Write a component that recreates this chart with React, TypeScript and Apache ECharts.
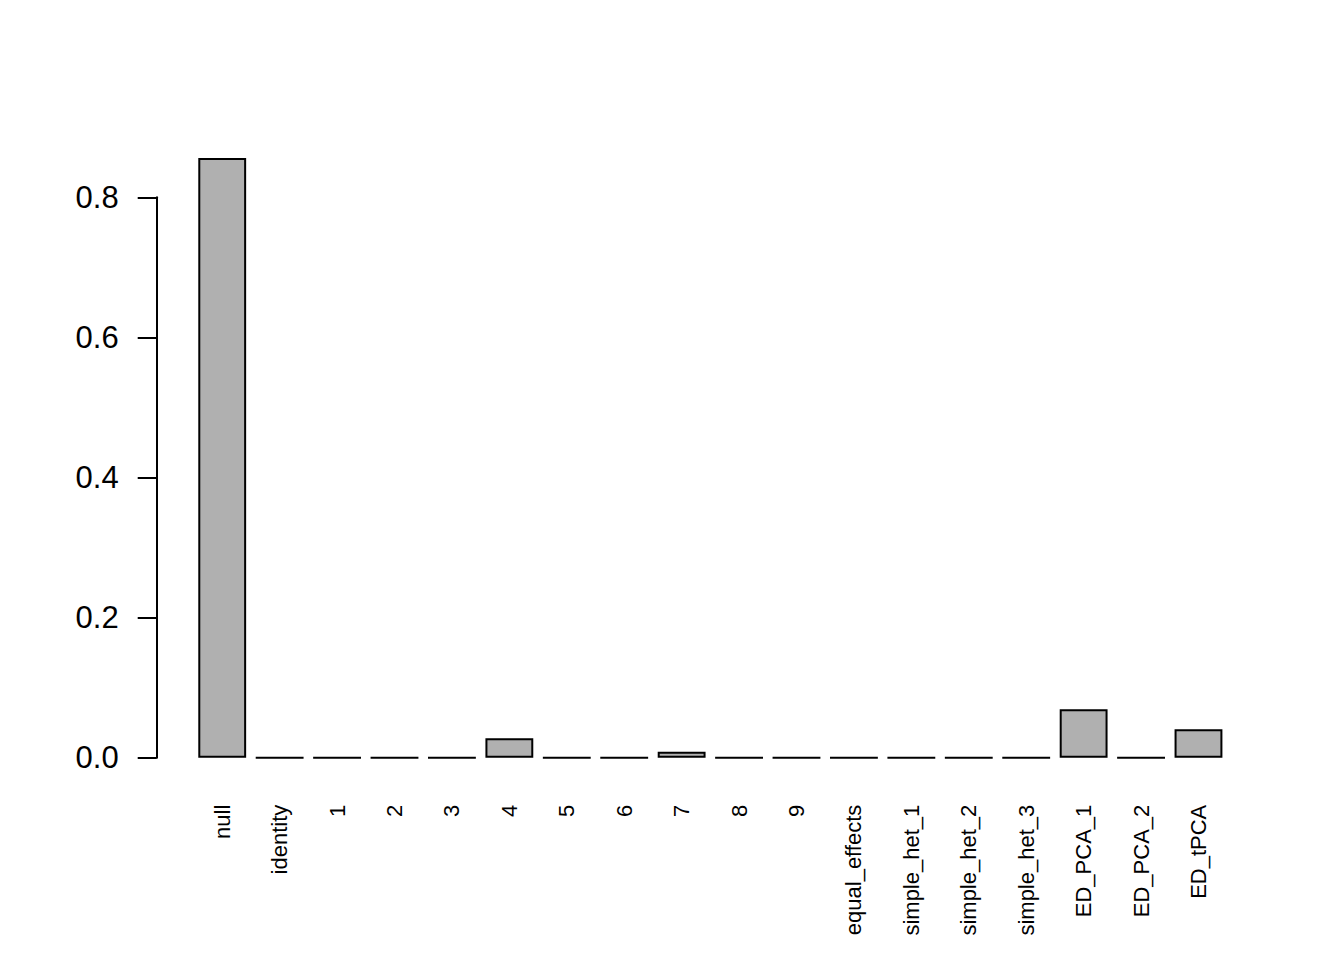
import React, { useEffect, useRef } from "react";
import * as echarts from "echarts";

const categories = [
  "null", "identity", "1", "2", "3", "4", "5", "6", "7", "8", "9",
  "equal_effects", "simple_het_1", "simple_het_2", "simple_het_3",
  "ED_PCA_1", "ED_PCA_2", "ED_tPCA",
];
const values = [
  0.856, 0, 0, 0, 0, 0.0277, 0, 0, 0.0086, 0, 0,
  0, 0, 0, 0, 0.069, 0, 0.0405,
];
const yTicks = [0, 0.2, 0.4, 0.6, 0.8];

const FONT = "'Liberation Sans', Arial, Helvetica, sans-serif";

export default function App() {
  const ref = useRef<HTMLDivElement>(null);
  useEffect(() => {
    document.body.style.margin = "0";
    const chart = echarts.init(ref.current!, undefined, { renderer: "svg" });
    chart.setOption({
      animation: false,
      backgroundColor: "#ffffff",
      grid: { left: 193.5, right: 116.8, top: 197.3, bottom: 202.3, containLabel: false },
      xAxis: {
        type: "category",
        data: categories,
        axisLine: { show: false },
        axisTick: { show: false },
        axisLabel: {
          rotate: 90,
          margin: 47,
          fontSize: 22,
          fontFamily: FONT,
          color: "#000000",
          interval: 0,
        },
      },
      yAxis: {
        type: "value",
        min: yTicks[0],
        max: yTicks[yTicks.length - 1],
        interval: 0.2,
        offset: 36.8,
        splitLine: { show: false },
        axisLine: { show: true, lineStyle: { color: "#000000", width: 2 } },
        axisTick: { show: true, length: 19, lineStyle: { color: "#000000", width: 2 } },
        axisLabel: {
          margin: 38,
          fontSize: 31,
          fontFamily: FONT,
          color: "#000000",
          formatter: (v: number) => v.toFixed(1),
        },
      },
      series: [
        {
          type: "bar",
          data: values,
          barWidth: "83.33%",
          clip: false,
          itemStyle: { color: "#B0B0B0", borderColor: "#000000", borderWidth: 2 },
        },
      ],
    });
    return () => chart.dispose();
  }, []);
  return <div ref={ref} style={{ width: 1344, height: 960 }} />;
}
